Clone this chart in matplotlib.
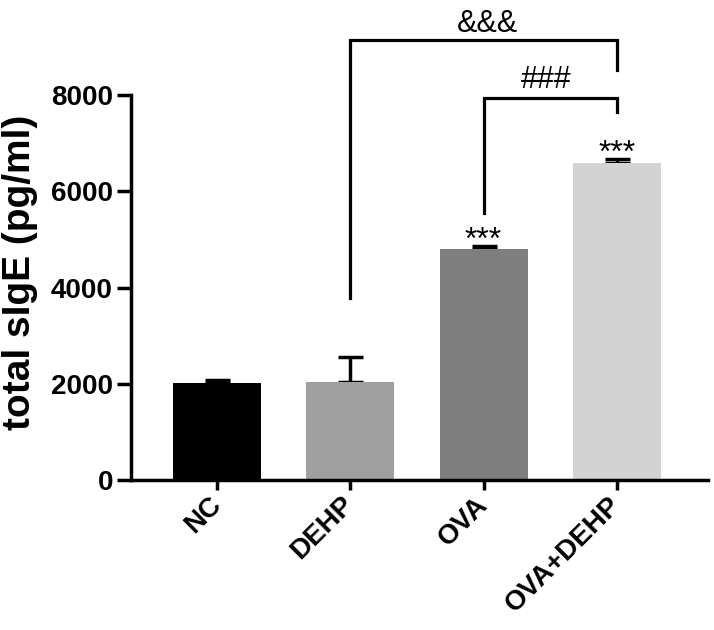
import matplotlib
matplotlib.use('Agg')
from matplotlib import pyplot as plt

# Data
groups = ['NC', 'DEHP', 'OVA', 'OVA+DEHP']
means = [2020, 2040, 4810, 6580]
errors = [60, 520, 60, 90]
colors = ['#000000', '#a0a0a0', '#7f7f7f', '#d3d3d3']
stars = ['', '', '***', '***']

plt.rcParams['font.family'] = ['Liberation Sans', 'DejaVu Sans']

fig = plt.figure(figsize=(7.14, 6.3), dpi=100)
ax = fig.add_axes([0.1835, 0.2381, 0.808, 0.6111])

x = list(range(len(groups)))
ax.bar(x, means, width=0.66, color=colors, zorder=2)
ax.errorbar(x, means, yerr=[[0] * len(errors), errors], fmt='none',
            ecolor='black', elinewidth=2.5, capsize=9, capthick=2.5, zorder=1)

# asterisks sit right on top of the error caps
for xi, m, e, s in zip(x, means, errors, stars):
    if s:
        ax.text(xi, m + e - 60, s, ha='center', va='baseline', fontsize=23)

# significance brackets
lw = 2.3
# &&& : DEHP vs OVA+DEHP
ax.plot([1, 1, 3, 3], [3780, 9150, 9150, 8520], color='black', lw=lw,
        clip_on=False, solid_joinstyle='miter')
ax.text(2.03, 9300, '&&&', ha='center', va='baseline', fontsize=22)
# ### : OVA vs OVA+DEHP
ax.plot([2, 2, 3, 3], [5550, 7940, 7940, 7650], color='black', lw=lw,
        clip_on=False, solid_joinstyle='miter')
ax.text(2.47, 8150, '###', ha='center', va='baseline', fontsize=22)

ax.set_xlim(-0.645, 3.683)
ax.set_ylim(0, 8000)
ax.set_yticks([0, 2000, 4000, 6000, 8000])
ax.set_xticks(x)
ax.set_xticklabels(groups, rotation=45, ha='right', va='center',
                   rotation_mode='anchor', fontsize=20, fontweight='bold')
for lab in ax.get_yticklabels():
    lab.set_fontsize(20)
    lab.set_fontweight('bold')
ax.set_ylabel('total sIgE (pg/ml)', fontsize=28, fontweight='bold')
ax.yaxis.set_label_coords(-0.162, 0.54)

for side in ['top', 'right']:
    ax.spines[side].set_visible(False)
for side in ['left', 'bottom']:
    ax.spines[side].set_linewidth(2.5)
ax.tick_params(axis='both', width=2.5)
ax.tick_params(axis='y', length=10, pad=3)
ax.tick_params(axis='x', length=7, pad=8)

fig.savefig('out.png', dpi=100)
